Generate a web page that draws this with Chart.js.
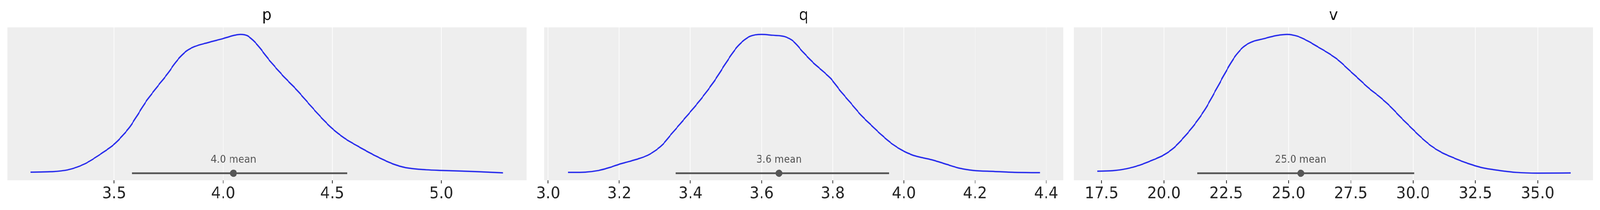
<!DOCTYPE html>
<html>
<head>
<meta charset="utf-8">
<script src="https://cdn.jsdelivr.net/npm/chart.js@4.4.1/dist/chart.umd.min.js"></script>
<style>
  html, body { margin: 0; padding: 0; background: #fff; overflow: hidden; }
  #stage { width: 4343px; height: 537px; position: relative; overflow: hidden; transform-origin: 0 0; }
  #stage canvas { position: absolute; top: 0; }
</style>
</head>
<body>
<div id="stage">
  <canvas id="chartP"></canvas>
  <canvas id="chartQ"></canvas>
  <canvas id="chartV"></canvas>
</div>
<script>
// posterior densities (peak scaled to 1)
const pX = [3.117, 3.211, 3.289, 3.367, 3.445, 3.5, 3.539, 3.570, 3.602, 3.649, 3.696, 3.742, 3.789, 3.828, 3.868, 3.930, 3.999, 4.055, 4.079, 4.110, 4.149, 4.212, 4.274, 4.337, 4.399, 4.446, 4.501, 4.556, 4.618, 4.697, 4.775, 4.837, 4.931, 5.009, 5.166, 5.283];
const pY = [0.008, 0.011, 0.025, 0.069, 0.146, 0.209, 0.272, 0.330, 0.407, 0.523, 0.620, 0.711, 0.813, 0.876, 0.912, 0.941, 0.970, 0.995, 1.000, 0.991, 0.938, 0.813, 0.702, 0.600, 0.489, 0.407, 0.320, 0.252, 0.194, 0.126, 0.069, 0.040, 0.025, 0.020, 0.011, 0.003];

const qX = [3.056, 3.104, 3.142, 3.171, 3.199, 3.228, 3.257, 3.281, 3.305, 3.324, 3.343, 3.372, 3.401, 3.429, 3.449, 3.473, 3.497, 3.525, 3.544, 3.568, 3.600, 3.631, 3.664, 3.688, 3.717, 3.746, 3.774, 3.794, 3.822, 3.851, 3.880, 3.909, 3.937, 3.966, 3.995, 4.024, 4.052, 4.081, 4.120, 4.158, 4.196, 4.254, 4.311, 4.383];
const qY = [0.006, 0.008, 0.020, 0.040, 0.064, 0.085, 0.107, 0.131, 0.170, 0.213, 0.272, 0.359, 0.446, 0.533, 0.600, 0.687, 0.784, 0.890, 0.944, 0.987, 1.000, 0.994, 0.985, 0.953, 0.871, 0.794, 0.731, 0.683, 0.591, 0.504, 0.417, 0.344, 0.276, 0.213, 0.165, 0.131, 0.112, 0.095, 0.064, 0.035, 0.020, 0.013, 0.006, 0.004];

const vX = [17.32, 17.94, 18.49, 19.04, 19.59, 20.0, 20.41, 20.82, 21.24, 21.65, 22.06, 22.47, 22.82, 23.16, 23.50, 23.98, 24.53, 24.95, 25.36, 25.77, 26.18, 26.59, 27.01, 27.42, 27.83, 28.24, 28.65, 29.07, 29.48, 29.89, 30.30, 30.71, 31.13, 31.68, 32.23, 32.77, 33.46, 34.15, 34.97, 36.32];
const vY = [0.015, 0.018, 0.032, 0.059, 0.098, 0.132, 0.185, 0.262, 0.354, 0.460, 0.591, 0.726, 0.832, 0.905, 0.944, 0.968, 0.992, 1.000, 0.987, 0.953, 0.910, 0.866, 0.813, 0.745, 0.678, 0.610, 0.552, 0.484, 0.407, 0.334, 0.262, 0.199, 0.151, 0.107, 0.069, 0.040, 0.020, 0.006, 0.001, 0.002];

// HDI interval and mean for each variable
const pHdi = [3.581, 4.569];
const qHdi = [3.358, 3.958];
const vHdi = [21.34, 30.04];
const means = [4.047, 3.649, 25.49];
const meanLabels = ['4.0 mean', '3.6 mean', '25.0 mean'];

// tick values and their labels
const pTicks = [3.5, 4.0, 4.5, 5.0];
const qTicks = [3.0, 3.2, 3.4, 3.6, 3.8, 4.0, 4.2, 4.4];
const vTicks = [17.5, 20.0, 22.5, 25.0, 27.5, 30.0, 32.5, 35.0];
const pTickLabels = ['3.5', '4.0', '4.5', '5.0'];
const qTickLabels = ['3.0', '3.2', '3.4', '3.6', '3.8', '4.0', '4.2', '4.4'];
const vTickLabels = ['17.5', '20.0', '22.5', '25.0', '27.5', '30.0', '32.5', '35.0'];

const titles = ['p', 'q', 'v'];

const FONT = 'DejaVu Sans';
const PAD = 60;
const PLOT_W = 1409;

// fit the 4343x537 stage into whatever CSS viewport we actually get
const sx = (window.innerWidth || 4343) / 4343;
const sy = (window.innerHeight || 537) / 537;
document.getElementById('stage').style.transform = `scale(${sx}, ${sy})`;
const ratio = (window.devicePixelRatio || 1) * Math.max(sx, sy);

const panels = [
  { id: 'chartP', left: 20, xs: pX, ys: pY, hdi: pHdi, ticks: pTicks, labels: pTickLabels, min: 3.0104, max: 5.390 },
  { id: 'chartQ', left: 1477, xs: qX, ys: qY, hdi: qHdi, ticks: qTicks, labels: qTickLabels, min: 2.9886, max: 4.4478 },
  { id: 'chartV', left: 2915, xs: vX, ys: vY, hdi: vHdi, ticks: vTicks, labels: vTickLabels, min: 16.388, max: 37.22 }
];

// grey background behind the plot area
const bgPlugin = {
  id: 'panelBg',
  beforeDraw(chart) {
    const { ctx, chartArea: a } = chart;
    ctx.save();
    ctx.fillStyle = '#eeeeee';
    ctx.fillRect(a.left, a.top, a.right - a.left, a.bottom - a.top);
    ctx.restore();
  }
};

panels.forEach((pn, i) => {
  const canvas = document.getElementById(pn.id);
  canvas.width = PLOT_W + 2 * PAD;
  canvas.height = 537;
  canvas.style.left = (pn.left - PAD) + 'px';

  const curve = pn.xs.map((x, k) => ({ x: x, y: pn.ys[k] }));

  const meanText = {
    id: 'meanText' + i,
    afterDatasetsDraw(chart) {
      const { ctx, scales } = chart;
      ctx.save();
      ctx.font = '26px "' + FONT + '"';
      ctx.fillStyle = '#555555';
      ctx.textAlign = 'center';
      ctx.textBaseline = 'alphabetic';
      ctx.fillText(meanLabels[i], scales.x.getPixelForValue(means[i]), scales.y.getPixelForValue(0.075));
      ctx.restore();
    }
  };

  new Chart(canvas.getContext('2d'), {
    type: 'line',
    data: {
      datasets: [
        {
          data: curve,
          borderColor: '#2a2eec',
          borderWidth: 3.5,
          pointRadius: 0,
          fill: false,
          tension: 0.4,
          cubicInterpolationMode: 'monotone'
        },
        {
          data: [{ x: pn.hdi[0], y: 0 }, { x: pn.hdi[1], y: 0 }],
          borderColor: '#555555',
          borderWidth: 4.5,
          borderCapStyle: 'butt',
          pointRadius: 0
        },
        {
          data: [{ x: means[i], y: 0 }],
          showLine: false,
          pointRadius: 9.3,
          pointBackgroundColor: '#555555',
          pointBorderColor: '#555555',
          pointBorderWidth: 0
        }
      ]
    },
    options: {
      responsive: false,
      animation: false,
      devicePixelRatio: ratio,
      layout: { padding: { left: PAD, right: PAD, top: 0, bottom: 14 } },
      plugins: {
        legend: { display: false },
        tooltip: { enabled: false },
        title: {
          display: true,
          text: titles[i],
          color: '#111111',
          font: { family: FONT, size: 41, weight: 'normal', lineHeight: 1.2 },
          padding: { top: 16, bottom: 4.8 }
        }
      },
      scales: {
        x: {
          type: 'linear',
          min: pn.min,
          max: pn.max,
          afterBuildTicks: (scale) => { scale.ticks = pn.ticks.map(v => ({ value: v })); },
          ticks: {
            callback: (v, idx) => pn.labels[idx],
            color: '#262626',
            font: { family: FONT, size: 41, lineHeight: 1.2 },
            padding: 2.4,
            maxRotation: 0,
            autoSkip: false
          },
          grid: {
            color: '#ffffff',
            lineWidth: 1.6,
            tickColor: '#262626',
            tickWidth: 2,
            tickLength: 8
          },
          border: { display: false }
        },
        y: {
          display: false,
          min: -0.0507,
          max: 1.0507
        }
      }
    },
    plugins: [bgPlugin, meanText]
  });
});
</script>
</body>
</html>
